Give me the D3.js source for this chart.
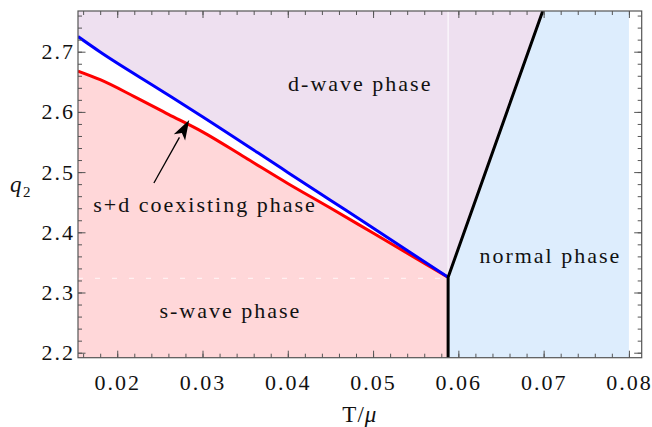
<!DOCTYPE html>
<html>
<head>
<meta charset="utf-8">
<script src="https://cdn.jsdelivr.net/npm/d3@7"></script>
<style>
  body { margin: 0; background: #fff; }
  svg text { font-family: "Liberation Serif", "Times New Roman", Times, serif; fill: #111; }
</style>
</head>
<body>
<div id="chart"></div>
<script>
// phase boundaries (T/mu, q2)
const tBlue = [0.0154, 0.018, 0.025, 0.030, 0.040, 0.045, 0.050, 0.0588];
const qBlue = [2.7251, 2.6995, 2.6369, 2.5920, 2.4995, 2.4533, 2.4071, 2.3252];

const tRed = [0.0154, 0.018, 0.022, 0.026, 0.030, 0.035, 0.040, 0.045, 0.050, 0.055, 0.0588];
const qRed = [2.6678, 2.6535, 2.6255, 2.5960, 2.5668, 2.5242, 2.4812, 2.4404, 2.3987, 2.3570, 2.3252];

// normal / superconducting boundary
const tBlack = [0.0588, 0.0588, 0.0705];
const qBlack = [2.18, 2.3252, 2.7916];

const tEdge = 0.08;          // right end of the computed region
const qMesh = 2.3236;        // faint mesh line

const xTicks = [0.02, 0.03, 0.04, 0.05, 0.06, 0.07, 0.08];
const yTicks = [2.2, 2.3, 2.4, 2.5, 2.6, 2.7];

const labels = [
  { text: "d-wave phase", t: 0.0485, q: 2.634 },
  { text: "s+d coexisting phase", t: 0.0303, q: 2.4342 },
  { text: "s-wave phase", t: 0.03327, q: 2.2576 },
  { text: "normal phase", t: 0.07079, q: 2.3495 }
];
const arrowFrom = [0.0243, 2.4819];
const arrowTo = [0.02844, 2.5867];

const width = 652, height = 427;
const margin = { top: 11, right: 10.3, bottom: 69.3, left: 78 };
const iw = width - margin.left - margin.right;
const ih = height - margin.top - margin.bottom;

const x = d3.scaleLinear().domain([0.0154, 0.0815]).range([0, iw]);
const y = d3.scaleLinear().domain([2.1917, 2.7676]).range([ih, 0]);
const [x0, x1] = x.domain();
const [y0, y1] = y.domain();

const svg = d3.select("#chart").append("svg")
  .attr("width", width)
  .attr("height", height);

svg.append("defs").append("clipPath").attr("id", "clip")
  .append("rect").attr("width", iw).attr("height", ih);

const g = svg.append("g").attr("transform", `translate(${margin.left},${margin.top})`);
const plot = g.append("g").attr("clip-path", "url(#clip)");

const zip = (ts, qs) => ts.map((t, i) => [t, qs[i]]);
const blue = zip(tBlue, qBlue);
const red = zip(tRed, qRed);
const black = zip(tBlack, qBlack);
const vertex = blue[blue.length - 1];
const bTop = black[black.length - 1];

const line = d3.line().x(d => x(d[0])).y(d => y(d[1]));
const smooth = d3.line().x(d => x(d[0])).y(d => y(d[1])).curve(d3.curveMonotoneX);
const px = d => `${x(d[0])},${y(d[1])}`;

// d-wave region
plot.append("path")
  .attr("d", `M${px([x0 - 0.001, y1 + 0.05])}L${px([x0 - 0.001, blue[0][1]])}L` +
    smooth(blue).slice(1) + `L${px(bTop)}L${px([bTop[0], y1 + 0.05])}Z`)
  .attr("fill", "#eee0f0");

// s-wave region
plot.append("path")
  .attr("d", `M${px([x0 - 0.001, y0 - 0.05])}L${px([x0 - 0.001, red[0][1]])}L` +
    smooth(red).slice(1) + `L${px([vertex[0], y0 - 0.05])}Z`)
  .attr("fill", "#ffd7d9");

// normal region
plot.append("path")
  .attr("d", line([[vertex[0], y0 - 0.05], vertex, bTop, [tEdge, bTop[1]], [tEdge, y0 - 0.05]]) + "Z")
  .attr("fill", "#ddedfd");

// faint mesh lines
plot.append("line")
  .attr("x1", x(x0)).attr("x2", x(vertex[0]))
  .attr("y1", y(qMesh)).attr("y2", y(qMesh))
  .attr("stroke", "#fff").attr("stroke-width", 1).attr("stroke-dasharray", "5,12").attr("opacity", 0.8);
plot.append("line")
  .attr("x1", x(vertex[0])).attr("x2", x(vertex[0]))
  .attr("y1", y(vertex[1])).attr("y2", 0)
  .attr("stroke", "#fff").attr("stroke-width", 1.2).attr("opacity", 0.9);

// boundaries
plot.append("path").attr("d", smooth(red)).attr("fill", "none")
  .attr("stroke", "#ff0000").attr("stroke-width", 3);
plot.append("path").attr("d", smooth(blue)).attr("fill", "none")
  .attr("stroke", "#0000ff").attr("stroke-width", 3);
plot.append("path").attr("d", line(black)).attr("fill", "none")
  .attr("stroke", "#000").attr("stroke-width", 3);

// axes, ticks pointing inward on all four sides
const xMinor = d3.range(0.016, 0.0815, 0.002);
const yMinor = d3.range(2.2, 2.7676, 0.02);

function styleAxis(sel) {
  sel.select(".domain").remove();
  sel.attr("font-family", null);
  sel.selectAll("line").attr("stroke", "#555");
  sel.selectAll("text")
    .style("font-size", "22px")
    .style("letter-spacing", "2px")
    .attr("fill", "#111");
}

g.append("g").attr("transform", `translate(0,${ih})`)
  .call(d3.axisBottom(x).tickValues(xMinor).tickSize(-4).tickFormat(""))
  .call(styleAxis);
g.append("g").attr("transform", `translate(0,${ih})`)
  .call(d3.axisBottom(x).tickValues(xTicks).tickSize(-7).tickPadding(17).tickFormat(d3.format(".2f")))
  .call(styleAxis);
g.append("g")
  .call(d3.axisTop(x).tickValues(xMinor).tickSize(-4).tickFormat(""))
  .call(styleAxis);
g.append("g")
  .call(d3.axisTop(x).tickValues(xTicks).tickSize(-7).tickFormat(""))
  .call(styleAxis);

g.append("g")
  .call(d3.axisLeft(y).tickValues(yMinor).tickSize(-4).tickFormat(""))
  .call(styleAxis);
g.append("g")
  .call(d3.axisLeft(y).tickValues(yTicks).tickSize(-7.5).tickPadding(3).tickFormat(d3.format(".1f")))
  .call(styleAxis);
g.append("g").attr("transform", `translate(${iw},0)`)
  .call(d3.axisRight(y).tickValues(yMinor).tickSize(-4).tickFormat(""))
  .call(styleAxis);
g.append("g").attr("transform", `translate(${iw},0)`)
  .call(d3.axisRight(y).tickValues(yTicks).tickSize(-7.5).tickFormat(""))
  .call(styleAxis);

g.append("rect")
  .attr("width", iw).attr("height", ih)
  .attr("fill", "none").attr("stroke", "#555").attr("stroke-width", 1.2);

// region labels
g.selectAll("text.region")
  .data(labels)
  .join("text")
  .attr("class", "region")
  .attr("x", d => x(d.t))
  .attr("y", d => y(d.q))
  .attr("text-anchor", "middle")
  .style("font-size", "22px")
  .style("letter-spacing", "2px")
  .text(d => d.text);

// arrow to the coexisting strip
const ax0 = x(arrowFrom[0]), ay0 = y(arrowFrom[1]);
const ax1 = x(arrowTo[0]), ay1 = y(arrowTo[1]);
const ang = Math.atan2(ay1 - ay0, ax1 - ax0);
const headLen = 20, headW = 6.5;
const bx = ax1 - headLen * Math.cos(ang), by = ay1 - headLen * Math.sin(ang);
g.append("line")
  .attr("x1", ax0).attr("y1", ay0).attr("x2", bx).attr("y2", by)
  .attr("stroke", "#000").attr("stroke-width", 1.3);
g.append("path")
  .attr("d", `M${ax1},${ay1}L${bx - headW * Math.sin(ang)},${by + headW * Math.cos(ang)}L${bx + 5 * Math.cos(ang)},${by + 5 * Math.sin(ang)}L${bx + headW * Math.sin(ang)},${by - headW * Math.cos(ang)}Z`)
  .attr("fill", "#000");

// axis titles
svg.append("text")
  .attr("x", margin.left + iw / 2)
  .attr("y", 421.5)
  .attr("text-anchor", "middle")
  .style("font-size", "23px")
  .style("letter-spacing", "1px")
  .html('T/<tspan font-style="italic">μ</tspan>');

const ql = svg.append("text")
  .attr("x", 10)
  .attr("y", 191.7)
  .style("font-size", "23px");
ql.append("tspan").attr("font-style", "italic").text("q");
ql.append("tspan").attr("dx", 1.5).attr("dy", 5).style("font-size", "15px").text("2");
</script>
</body>
</html>
